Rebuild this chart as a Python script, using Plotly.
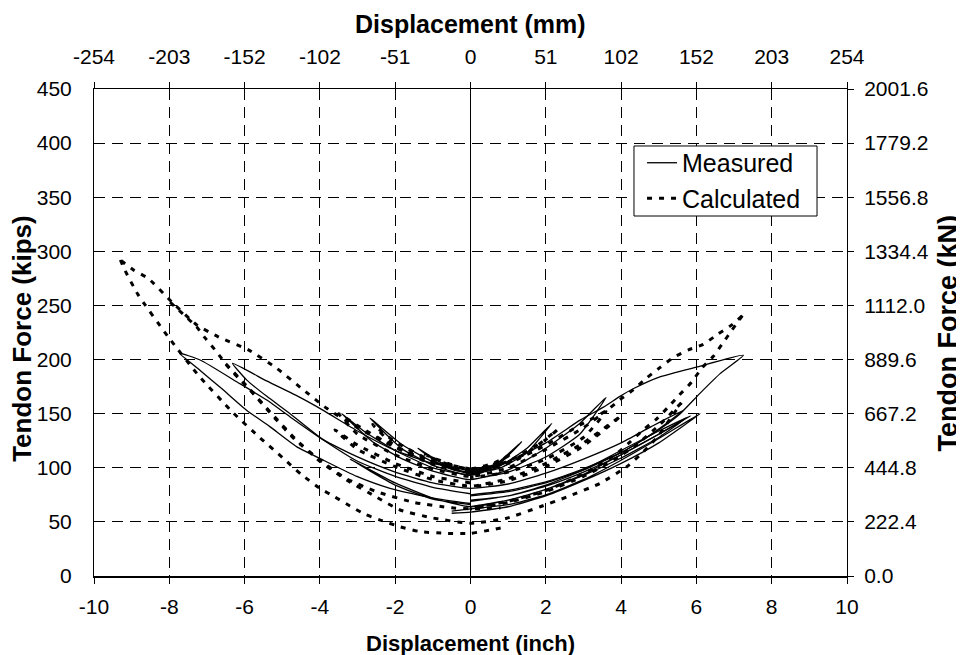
import plotly.graph_objects as go

# ---------------- axis tick labels ----------------
x_ticks_in = [-10, -8, -6, -4, -2, 0, 2, 4, 6, 8, 10]
x_ticks_mm = ["-254", "-203", "-152", "-102", "-51", "0", "51", "102", "152", "203", "254"]
y_ticks_kips = [0, 50, 100, 150, 200, 250, 300, 350, 400, 450]
y_ticks_kn = ["0.0", "222.4", "444.8", "667.2", "889.6", "1112.0", "1334.4", "1556.8", "1779.2", "2001.6"]

# ---------------- Measured loops (inch, kips) ----------------
m0_x = [0, -0.5, -1.0, -0.5, 0, 0.5, 0.9, 0.5, 0]
m0_y = [96, 99, 106, 100, 95, 99, 108, 100, 96]
m1_x = [0, -0.7, -1.4, -0.7, 0, 0.7, 1.36, 0.7, 0]
m1_y = [95, 101, 118, 103, 94, 102, 124, 104, 95]
m2_x = [0, -0.9, -1.8, -2.67, -1.8, -0.9, 0, 0.8, 1.5, 2.16, 1.5, 0.8, 0]
m2_y = [97, 104, 121, 146, 117, 101, 93, 102, 118, 141, 114, 100, 94]
m3_x = [0, -1, -2, -2.8, -3.42, -2.6, -1.8, -1, 0, 1, 2, 2.9, 3.6, 2.9, 2, 1, 0]
m3_y = [93, 100, 116, 133, 150, 124, 108, 97, 89, 98, 118, 141, 165, 131, 110, 96, 89]
m4_x = [0, -1, -2, -3, -3.91, -4.53, -5.4, -6.32, -5.94, -5.41, -4.79, -3.91, -3, -2, -1, 0,
        1, 2, 3, 4, 4.8, 5.65, 4.8, 4, 3, 2, 1, 0]
m4_y = [98, 104, 116, 134, 153, 165, 180, 196.5, 181, 166, 150, 126, 110, 96, 86, 81,
        85, 95, 108, 123, 138, 153, 131, 114, 99, 87, 79, 75]
m5_x = [0, -1, -2, -3, -3.91, -4.79, -5.41, -6.21, -7.18, -7.73, -7.18, -6.57, -5.94, -5.33,
        -4.62, -3.91, -3.02, -2.14, -1, 0]
m5_y = [76, 82, 92, 106, 125.7, 147, 162.6, 179.5, 199.6, 205.8, 190, 172, 153, 138,
        119.5, 107, 92, 81, 72, 67]
m6_x = [0, 1, 2, 2.91, 3.53, 3.97, 4.32, 5.03, 6.0, 7.25, 6.63, 6.1, 5.57, 5.12, 4.5, 4, 3, 2, 1, 0]
m6_y = [96, 106, 123, 144, 156, 166, 173, 184, 193, 204, 187, 169, 150, 138, 124, 114, 98, 86, 78, 74]
m7_x = [-0.5, 0, 1, 2, 3, 4, 5, 6.1, 5, 4, 3, 2, 1, 0, -0.5]
m7_y = [60, 62, 66, 75, 89, 107, 127, 150, 123, 104, 88, 74, 64, 59, 58]
m8_x = [0, -1, -2, -3.2, -2, -1, 0, 1, 2, 3, 4, 5, 5.65, 5, 4, 3, 2, 1, 0]
m8_y = [66, 71, 84, 108, 86, 72, 64, 70, 80, 94, 112, 131, 144, 128, 109, 93, 80, 70, 64]
m9_x = [0, 1, 2, 3, 4, 5, 5.85, 5, 4, 3, 2, 1, 0]
m9_y = [70, 74, 84, 98, 116, 134, 148, 131, 112, 96, 83, 74, 69]

# ---------------- Calculated loops (inch, kips) ----------------
c0_x = [0, -0.6, -1.2, -0.6, 0, 0.6, 1.1, 0.6, 0]
c0_y = [99, 103, 112, 104, 98, 103, 113, 104, 99]
c1_x = [0, -1, -2, -2.6, -2, -1, 0, 1, 2, 2.3, 1.6, 1, 0]
c1_y = [99, 106, 124, 140, 120, 105, 97, 106, 126, 135, 116, 105, 98]
c2_x = [0, -1, -2, -3, -3.5, -3, -2, -1, 0, 1, 2, 3, 3.6, 3, 2, 1, 0]
c2_y = [96, 103, 119, 139, 150, 131, 112, 99, 92, 100, 117, 137, 152, 128, 108, 96, 91]
c3_x = [0, -1, -2, -3, -3.82, -4.44, -5.15, -5.9, -6.7, -7.27, -7.94, -8.56, -8.96, -9.3]
c3_y = [97, 105, 119, 137, 155, 172, 192, 209, 221, 232, 253.5, 275, 283, 292]
c4_x = [-9.3, -9.2, -8.83, -8.03, -7.24, -6.31, -5.6, -4.98, -4.5, -4.0, -3.6, -3.2, -2.8, -2.4,
        -1.87, -1.34, -0.63, 0, 0.52, 0.96]
c4_y = [292, 284, 260, 221, 186, 151, 128, 109, 94, 81, 73, 64.7, 57, 51.7,
        45.5, 41, 39.4, 39.4, 42.5, 45.5]
c5_x = [-7.98, -7.27, -7.05, -6.74, -6.48, -6.17, -5.86, -5.28, -4.66, -4.0, -3.3, -2.5, -1.5, -0.5, 0, 0.8]
c5_y = [253, 230, 220, 207, 195, 183, 172, 149, 126, 107, 90, 78, 68, 63, 62, 63]
c6_x = [-6.5, -5.9, -5.28, -4.66, -4.0, -3.29, -2.5, -1.87, -1, 0, 0.96, 1.85, 2.56, 3.44, 4.15,
        4.6, 5.0, 5.3, 5.6]
c6_y = [196, 174, 150, 127, 106, 88.7, 73, 61, 53.6, 48.7, 53.4, 64, 73, 85.6, 101,
        115, 130, 145, 160]
c7_x = [5.6, 5.0, 4.4, 3.8, 3.0, 2.0, 1.0, 0]
c7_y = [160, 139, 121, 107, 92, 78, 68, 62]
c8_x = [0, 1, 2, 2.91, 3.26, 3.62, 3.97, 4.32, 4.68, 5.03, 5.39, 5.79, 6.18, 6.55, 6.94, 7.22]
c8_y = [95, 104, 121, 139.5, 146, 153, 163, 172, 183, 192.5, 202, 209, 214, 223, 232, 240.5]
c9_x = [7.22, 6.94, 6.71, 6.45, 6.14, 5.87, 5.54, 5.25, 4.94, 4.59, 4.24, 3.88, 3.4, 2.8, 2, 1, 0]
c9_y = [240.5, 227, 215.6, 203, 192, 179, 167, 156, 145, 135, 124, 113, 102, 91, 79, 69, 63]
c10_x = [0, -1, -2, -3, -3.6, -3, -2, -1, 0, 1, 2, 3, 4, 3, 2, 1, 0]
c10_y = [86, 92, 104, 121, 135, 117, 101, 89, 83, 90, 104, 123, 148, 120, 101, 88, 82]


def join(pairs):
    xs, ys = [], []
    for px, py in pairs:
        xs += list(px) + [None]
        ys += list(py) + [None]
    return xs, ys


meas_x, meas_y = join([(m0_x, m0_y), (m1_x, m1_y), (m2_x, m2_y), (m3_x, m3_y), (m4_x, m4_y),
                       (m5_x, m5_y), (m6_x, m6_y), (m7_x, m7_y), (m8_x, m8_y), (m9_x, m9_y)])
calc_x, calc_y = join([(c0_x, c0_y), (c1_x, c1_y), (c2_x, c2_y), (c3_x, c3_y), (c4_x, c4_y),
                       (c5_x, c5_y), (c6_x, c6_y), (c7_x, c7_y), (c8_x, c8_y), (c9_x, c9_y),
                       (c10_x, c10_y)])

FONT = "Liberation Sans, Arial, sans-serif"

fig = go.Figure()
fig.add_trace(go.Scatter(x=meas_x, y=meas_y, mode="lines", name="Measured",
                         line=dict(color="black", width=1.3, shape="spline", smoothing=0.5),
                         connectgaps=False))
fig.add_trace(go.Scatter(x=calc_x, y=calc_y, mode="lines", name="Calculated",
                         line=dict(color="black", width=3, dash="5px,7px", shape="spline", smoothing=0.5),
                         connectgaps=False))
# carrier trace for the secondary (mm / kN) axes
fig.add_trace(go.Scatter(x=[None], y=[None], xaxis="x2", yaxis="y2", showlegend=False,
                         hoverinfo="skip"))

tickfont = dict(family=FONT, size=21, color="black")

# page has an 8px body margin, so the figure is 8px smaller than the window
fig.update_layout(
    template="none",
    width=956, height=647,
    margin=dict(l=86, r=117, t=81, b=79, autoexpand=False),
    paper_bgcolor="white", plot_bgcolor="white",
    font=dict(family=FONT, color="black"),
    showlegend=True,
    legend=dict(x=0.7278, y=0.8953, xanchor="left", yanchor="top",
                bgcolor="rgba(0,0,0,0)", borderwidth=0,
                font=dict(family=FONT, size=25, color="black")),
    xaxis=dict(range=[-10, 10], tickvals=x_ticks_in, ticktext=[str(v) for v in x_ticks_in],
               ticks="outside", ticklen=6, tickcolor="black", tickfont=tickfont,
               ticklabelstandoff=5, automargin=False,
               showline=True, linecolor="black", linewidth=1.5,
               showgrid=True, gridcolor="black", gridwidth=1, griddash="11px,7px",
               zeroline=True, zerolinecolor="black", zerolinewidth=1, fixedrange=True),
    yaxis=dict(range=[0, 450], tickvals=y_ticks_kips, ticktext=[str(v) for v in y_ticks_kips],
               ticks="", tickfont=tickfont, ticklabelstandoff=17, automargin=False,
               showline=True, linecolor="black", linewidth=1,
               showgrid=True, gridcolor="black", gridwidth=1, griddash="11px,7px",
               zeroline=False, fixedrange=True),
    xaxis2=dict(range=[-10, 10], overlaying="x", side="top", anchor="y",
                tickvals=x_ticks_in, ticktext=x_ticks_mm,
                ticks="outside", ticklen=6, tickcolor="black", tickfont=tickfont,
                ticklabelstandoff=10, automargin=False,
                showline=True, linecolor="black", linewidth=1,
                showgrid=False, zeroline=False, fixedrange=True),
    yaxis2=dict(range=[0, 450], overlaying="y", side="right", anchor="x",
                tickvals=y_ticks_kips, ticktext=y_ticks_kn,
                ticks="outside", ticklen=6, tickcolor="black", tickfont=tickfont,
                ticklabelstandoff=6, automargin=False,
                showline=True, linecolor="black", linewidth=1,
                showgrid=False, zeroline=False, fixedrange=True),
)

# legend frame (drawn as a white box over the grid)
fig.add_shape(type="rect", xref="paper", yref="paper", x0=0.7171, x1=0.9602, y0=0.7392, y1=0.8830,
              line=dict(color="black", width=1), fillcolor="white", layer="above")

fig.add_annotation(text="<b>Displacement (inch)</b>", xref="paper", yref="paper",
                   x=0.5, y=-0.1376, showarrow=False, xanchor="center", yanchor="middle",
                   font=dict(family=FONT, size=22, color="black"))
fig.add_annotation(text="<b>Displacement (mm)</b>", xref="paper", yref="paper",
                   x=0.5, y=1.1335, showarrow=False, xanchor="center", yanchor="middle",
                   font=dict(family=FONT, size=25, color="black"))
fig.add_annotation(text="<b>Tendon Force (kips)</b>", xref="paper", yref="paper",
                   x=-0.0956, y=0.487, showarrow=False, textangle=-90,
                   xanchor="center", yanchor="middle",
                   font=dict(family=FONT, size=26, color="black"))
fig.add_annotation(text="<b>Tendon Force (kN)</b>", xref="paper", yref="paper",
                   x=1.134, y=0.5, showarrow=False, textangle=-90,
                   xanchor="center", yanchor="middle",
                   font=dict(family=FONT, size=27, color="black"))

fig.write_html("out.html")
